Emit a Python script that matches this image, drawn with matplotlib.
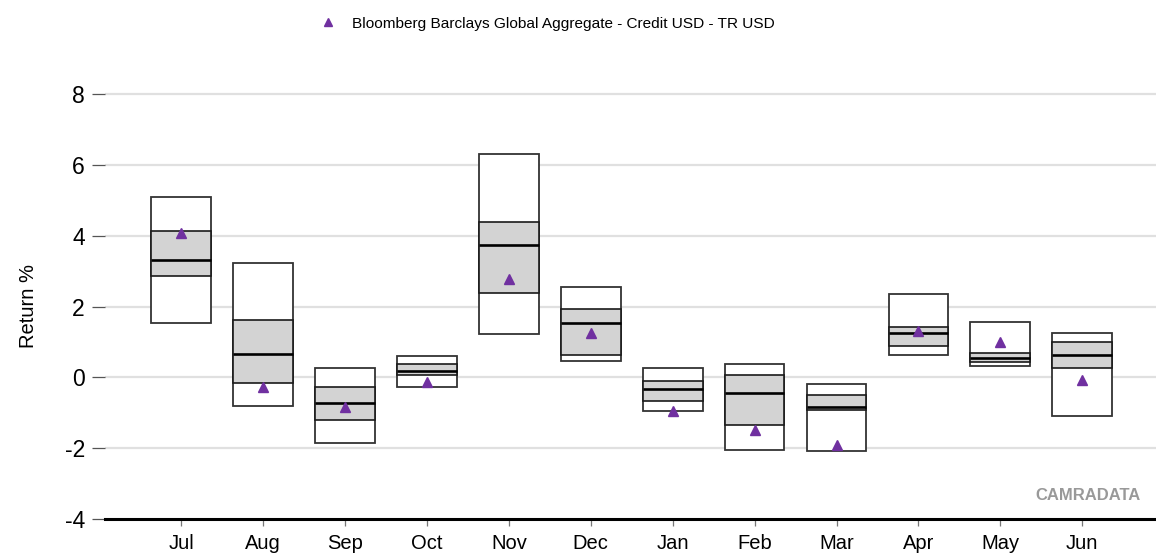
import numpy as np
import matplotlib
matplotlib.use("Agg")
import matplotlib.pyplot as plt
from matplotlib.lines import Line2D

plt.rcParams['font.family'] = ['Liberation Sans', 'DejaVu Sans']
plt.rcParams['axes.unicode_minus'] = False

# months and the percentile bands (return %)
months = ['Jul', 'Aug', 'Sep', 'Oct', 'Nov', 'Dec', 'Jan', 'Feb', 'Mar', 'Apr', 'May', 'Jun']
top = [5.09, 3.22, 0.27, 0.61, 6.30, 2.56, 0.25, 0.37, -0.20, 2.34, 1.56, 1.24]
upper_q = [4.13, 1.62, -0.28, 0.38, 4.40, 1.92, -0.10, 0.07, -0.51, 1.42, 0.68, 1.01]
median = [3.31, 0.67, -0.72, 0.18, 3.73, 1.54, -0.32, -0.43, -0.84, 1.25, 0.55, 0.63]
lower_q = [2.86, -0.17, -1.21, 0.07, 2.37, 0.63, -0.66, -1.35, -0.92, 0.89, 0.43, 0.25]
bottom = [1.54, -0.81, -1.86, -0.26, 1.22, 0.47, -0.95, -2.05, -2.09, 0.64, 0.31, -1.09]
index_ret = [4.08, -0.26, -0.83, -0.12, 2.79, 1.24, -0.94, -1.49, -1.91, 1.32, 1.00, -0.08]

series_name = 'Bloomberg Barclays Global Aggregate - Credit USD - TR USD'
purple = '#7030a0'

fig = plt.figure(figsize=(11.56, 5.54), dpi=100)
ax = fig.add_axes([0.0908, 0.0632, 0.9092, 0.831])

x = np.arange(len(months))
w = 0.73

# outer range box
ax.bar(x, np.array(top) - np.array(bottom), bottom=bottom, width=w,
       color='white', edgecolor='#333333', linewidth=1.3, zorder=3)
# inter-quartile box
ax.bar(x, np.array(upper_q) - np.array(lower_q), bottom=lower_q, width=w,
       color='#d3d3d3', edgecolor='#1a1a1a', linewidth=1.2, zorder=4)
# median
ax.hlines(median, x - w / 2, x + w / 2, color='black', linewidth=1.9, zorder=5)

ax.plot(x, index_ret, linestyle='none', marker='^', markersize=7,
        color=purple, zorder=6)

ax.set_xlim(-0.93, 11.9)
ax.set_ylim(-4, 9)
ax.set_yticks([-4, -2, 0, 2, 4, 6, 8])
ax.set_xticks(x)
ax.set_xticklabels(months)

for yv in [-2, 0, 2, 4, 6, 8]:
    ax.axhline(yv, color='#e0e0e0', linewidth=1.6, zorder=1)

for s in ['left', 'right', 'top']:
    ax.spines[s].set_visible(False)
ax.spines['bottom'].set_color('black')
ax.spines['bottom'].set_linewidth(2.2)

ax.tick_params(axis='y', length=9.5, width=0.9, color='#555555', pad=5,
               labelsize=16.5, labelcolor='black')
ax.tick_params(axis='x', length=5, width=0.9, color='#777777', pad=6,
               labelsize=14.5, labelcolor='black')

ax.set_ylabel('Return %', fontsize=14.5)
ax.yaxis.set_label_coords(-0.0635, 0.463)

ax.text(0.985, 0.05, 'CAMRADATA', transform=ax.transAxes, ha='right', va='center',
        fontsize=12, fontweight='bold', color='#999999')

handle = Line2D([], [], linestyle='none', marker='^', markersize=5.5, color=purple)
ax.legend([handle], [series_name], loc='center', bbox_to_anchor=(0.473, 0.957),
          bbox_transform=fig.transFigure, frameon=False, fontsize=11.1,
          handletextpad=0.9, handlelength=1.2)

fig.savefig('out.png', dpi=100)
